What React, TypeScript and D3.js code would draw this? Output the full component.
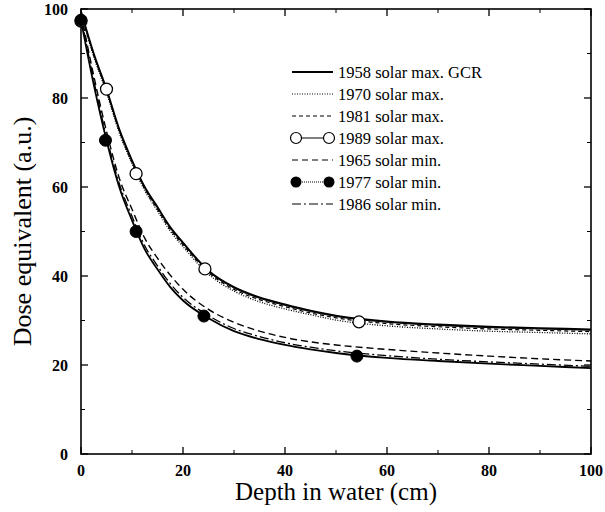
import React from "react";
import * as d3 from "d3";

const depthMax = [0, 2.5, 5, 7.5, 10, 12.5, 15, 17.5, 20, 25, 30, 35, 40, 45, 50, 60, 70, 80, 90, 100];
const s1958 = [99.5, 90, 82, 73, 66, 60, 55.5, 51, 47.5, 41.2, 37.5, 35.2, 33.6, 32.2, 31.1, 29.8, 29.1, 28.6, 28.3, 28.0];
const s1970 = [99, 89.3, 81.2, 72.2, 65.2, 59.2, 54.6, 50.1, 46.6, 40.4, 36.6, 34.2, 32.6, 31.3, 30.1, 28.8, 28.1, 27.6, 27.3, 27.0];
const s1981 = [99, 89.6, 81.6, 72.6, 65.6, 59.6, 55.0, 50.5, 47.0, 40.8, 37.0, 34.7, 33.1, 31.7, 30.6, 29.3, 28.6, 28.1, 27.8, 27.5];
const s1989 = [99.3, 89.8, 81.8, 72.8, 65.8, 59.8, 55.3, 50.8, 47.3, 41.0, 37.3, 35.0, 33.4, 32.0, 30.9, 29.6, 28.9, 28.4, 28.1, 27.8];

const depthMin = [0, 2.5, 5, 7.5, 10, 12.5, 15, 17.5, 20, 25, 30, 35, 40, 45, 50, 60, 70, 80, 90, 100];
const s1965 = [99, 85, 72.5, 62, 55, 48.5, 44, 40.2, 37, 32.5, 29.6, 27.6, 26.2, 25.2, 24.5, 23.5, 22.7, 22.0, 21.4, 20.9];
const s1977 = [97.5, 83, 70.5, 60, 52.5, 46, 41.5, 37.5, 34.5, 30.5, 27.6, 25.8, 24.5, 23.5, 22.7, 21.6, 20.9, 20.3, 19.8, 19.3];
const s1986 = [98.5, 84, 71.3, 60.8, 53.4, 46.8, 42.3, 38.3, 35.2, 31.1, 28.2, 26.4, 25.0, 24.0, 23.2, 22.1, 21.3, 20.7, 20.2, 19.7];

const open1989X = [0, 5, 10.8, 24.3, 54.5];
const open1989Y = [97.3, 82, 63, 41.6, 29.7];
const filled1977X = [0, 4.8, 10.8, 24.1, 54.1];
const filled1977Y = [97.5, 70.5, 50, 31, 22];

const xTicks = [0, 20, 40, 60, 80, 100];
const yTicks = [0, 20, 40, 60, 80, 100];
const minorTicks = [10, 30, 50, 70, 90];

const legendLabels = [
  "1958 solar max. GCR",
  "1970 solar max.",
  "1981 solar max.",
  "1989 solar max.",
  "1965 solar min.",
  "1977 solar min.",
  "1986 solar min.",
];

const FONT = "'Liberation Serif', 'DejaVu Serif', serif";

export default function App() {
  const W = 605, H = 512;
  const x = d3.scaleLinear().domain([0, 100]).range([81, 591]);
  const y = d3.scaleLinear().domain([0, 100]).range([454, 9]);

  const mk = (xs: number[], ys: number[]) =>
    d3.line<number>().x((_, i) => x(xs[i])).y((_, i) => y(ys[i])).curve(d3.curveMonotoneX)(ys.map((v) => v)) || "";

  const series = [
    { d: mk(depthMax, s1958), dash: "none", w: 1.8 },
    { d: mk(depthMax, s1970), dash: "1,1.5", w: 1.3 },
    { d: mk(depthMax, s1981), dash: "4,3", w: 1.2 },
    { d: mk(depthMax, s1989), dash: "none", w: 1.0 },
    { d: mk(depthMin, s1965), dash: "7,4", w: 1.4 },
    { d: mk(depthMin, s1977), dash: "none", w: 1.8 },
    { d: mk(depthMin, s1986), dash: "9,3,2,3", w: 1.3 },
  ];

  const legendDash = ["none", "1,1.5", "4,3", "none", "6,4", "1,1", "9,3,2,3"];
  const lx0 = 292, lx1 = 333, ly0 = 72, ldy = 22;

  const [x0, x1] = x.range();
  const [y0, y1] = y.range();

  return (
    <svg width={W} height={H} style={{ position: "absolute", left: 0, top: 0, background: "#fff" }}>
      <rect x={0} y={0} width={W} height={H} fill="#fff" />
      <rect x={x0} y={y1} width={x1 - x0} height={y0 - y1} fill="none" stroke="#000" strokeWidth={1.6} />
      {xTicks.map((t) => (
        <g key={"xt" + t}>
          <line x1={x(t)} x2={x(t)} y1={y0} y2={y0 - 7} stroke="#000" strokeWidth={1.3} />
          <line x1={x(t)} x2={x(t)} y1={y1} y2={y1 + 7} stroke="#000" strokeWidth={1.3} />
        </g>
      ))}
      {minorTicks.map((t) => (
        <g key={"xm" + t}>
          <line x1={x(t)} x2={x(t)} y1={y0} y2={y0 - 4} stroke="#000" strokeWidth={1} />
          <line x1={x(t)} x2={x(t)} y1={y1} y2={y1 + 4} stroke="#000" strokeWidth={1} />
          <line x1={x0} x2={x0 + 4} y1={y(t)} y2={y(t)} stroke="#000" strokeWidth={1} />
          <line x1={x1} x2={x1 - 4} y1={y(t)} y2={y(t)} stroke="#000" strokeWidth={1} />
        </g>
      ))}
      {yTicks.map((t) => (
        <g key={"yt" + t}>
          <line x1={x0} x2={x0 + 7} y1={y(t)} y2={y(t)} stroke="#000" strokeWidth={1.3} />
          <line x1={x1} x2={x1 - 7} y1={y(t)} y2={y(t)} stroke="#000" strokeWidth={1.3} />
        </g>
      ))}
      {xTicks.map((t) => (
        <text key={"xl" + t} x={x(t)} y={476} textAnchor="middle" fontFamily={FONT} fontSize={16} fontWeight="bold">
          {t}
        </text>
      ))}
      {yTicks.map((t) => (
        <text key={"yl" + t} x={68} y={y(t) + 5.5} textAnchor="end" fontFamily={FONT} fontSize={16} fontWeight="bold">
          {t}
        </text>
      ))}
      <text x={336} y={500} textAnchor="middle" fontFamily={FONT} fontSize={25}>
        Depth in water (cm)
      </text>
      <text
        transform={`translate(31, ${(y0 + y1) / 2}) rotate(-90)`}
        textAnchor="middle"
        fontFamily={FONT}
        fontSize={26}
      >
        Dose equivalent (a.u.)
      </text>
      {series.map((s, i) => (
        <path key={"s" + i} d={s.d} fill="none" stroke="#000" strokeWidth={s.w} strokeDasharray={s.dash} />
      ))}
      {open1989X.map((v, i) => (
        <circle key={"o" + i} cx={x(v)} cy={y(open1989Y[i])} r={6} fill="#fff" stroke="#000" strokeWidth={1.3} />
      ))}
      {filled1977X.map((v, i) => (
        <circle key={"f" + i} cx={x(v)} cy={y(filled1977Y[i])} r={6} fill="#000" stroke="#000" strokeWidth={1} />
      ))}
      {legendLabels.map((lab, i) => {
        const ly = ly0 + i * ldy;
        return (
          <g key={"lg" + i}>
            <line x1={lx0} x2={lx1} y1={ly} y2={ly} stroke="#000" strokeWidth={i === 0 ? 1.8 : 1.2} strokeDasharray={legendDash[i]} />
            {i === 3 && (
              <>
                <circle cx={lx0 + 4} cy={ly} r={5.5} fill="#fff" stroke="#000" strokeWidth={1.2} />
                <circle cx={lx1 - 4} cy={ly} r={5.5} fill="#fff" stroke="#000" strokeWidth={1.2} />
              </>
            )}
            {i === 5 && (
              <>
                <circle cx={lx0 + 4} cy={ly} r={5.5} fill="#000" />
                <circle cx={lx1 - 4} cy={ly} r={5.5} fill="#000" />
              </>
            )}
            <text x={338} y={ly + 5.5} fontFamily={FONT} fontSize={16.5}>
              {lab}
            </text>
          </g>
        );
      })}
    </svg>
  );
}
